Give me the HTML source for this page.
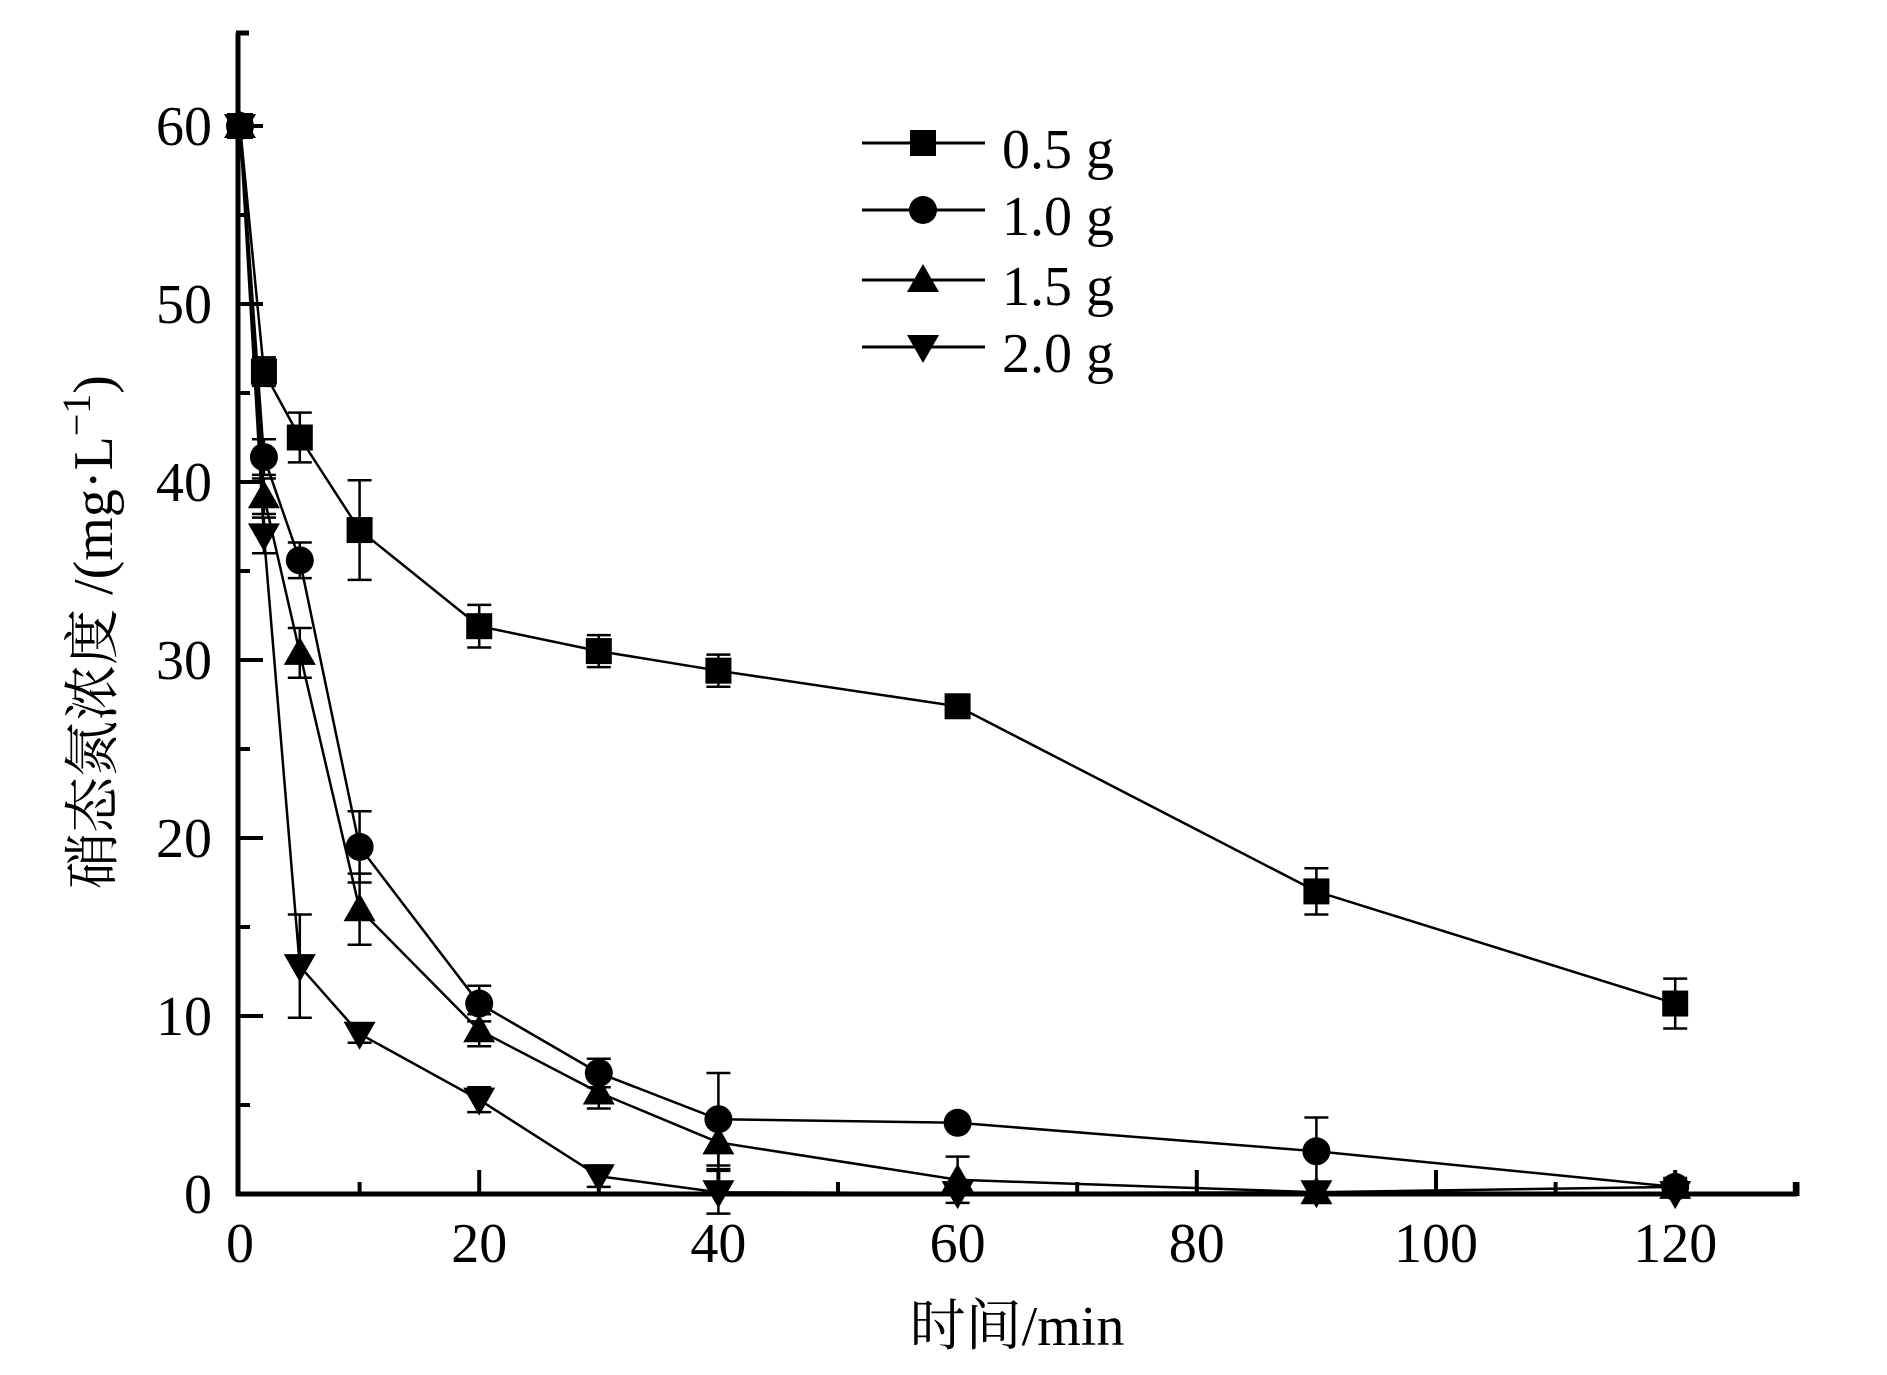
<!DOCTYPE html>
<html><head><meta charset="utf-8"><style>html,body{margin:0;padding:0;background:#fff}svg{display:block}</style></head>
<body>
<svg width="1887" height="1375" viewBox="0 0 1887 1375" xmlns="http://www.w3.org/2000/svg" font-family="Liberation Serif, serif">
<defs>
<g id="sq"><rect x="-13" y="-13" width="26" height="26" fill="#000"/></g>
<g id="ci"><circle r="14" fill="#000"/></g>
<g id="tu"><polygon points="0,-16 16,12 -16,12" fill="#000"/></g>
<g id="td"><polygon points="0,16 16,-12 -16,-12" fill="#000"/></g>
</defs>
<g id="plot"></g>
<g stroke="#000" stroke-width="5" fill="none">
<line x1="238" y1="33" x2="238" y2="1196"/>
<line x1="236" y1="1194" x2="1797" y2="1194"/>
<line x1="236" y1="33" x2="249" y2="33"/>
<line x1="1797" y1="1196" x2="1797" y2="1182"/>
</g>
<g id="ticks" stroke="#000" stroke-width="4"></g>
<g font-size="56" fill="#000" id="labels"></g>
<g font-size="56" fill="#000">
<text transform="translate(112,632) rotate(-90)" text-anchor="middle" font-family="Liberation Serif, Noto Serif CJK SC, serif">硝态氮浓度 /(mg·L<tspan dy="-22" font-size="40">−1</tspan><tspan dy="22">)</tspan></text>
<text x="1017" y="1345" text-anchor="middle" font-family="Liberation Serif, Noto Serif CJK SC, serif">时间/min</text>
</g>
<g stroke="#000" stroke-width="3">
<line x1="862" y1="143" x2="985" y2="143"/><line x1="862" y1="210" x2="985" y2="210"/>
<line x1="862" y1="280" x2="985" y2="280"/><line x1="862" y1="347" x2="985" y2="347"/>
</g>
<use href="#sq" x="923" y="143"/><use href="#ci" x="923" y="210"/><use href="#tu" x="923" y="280"/><use href="#td" x="923" y="347"/>
<g font-size="56" fill="#000">
<text x="1002" y="168">0.5 g</text><text x="1002" y="235">1.0 g</text><text x="1002" y="305">1.5 g</text><text x="1002" y="372">2.0 g</text>
</g>
<script>
const X=t=>240+t*11.96, Y=v=>1194-v*17.8;
const ns="http://www.w3.org/2000/svg";
function el(p,n,a){const e=document.createElementNS(ns,n);for(const k in a)e.setAttribute(k,a[k]);p.appendChild(e);return e;}
const tk=document.getElementById('ticks'), lb=document.getElementById('labels'), pl=document.getElementById('plot');
for(let t=10;t<=130;t+=10){const maj=t%20==0;el(tk,'line',{x1:X(t),y1:1194,x2:X(t),y2:1194-(maj?24:12)});}
for(let t=0;t<=120;t+=20){const e=el(lb,'text',{x:X(t),y:1262,'text-anchor':'middle'});e.textContent=t;}
for(let v=5;v<=65;v+=5){const maj=v%10==0;if(v>64)continue;el(tk,'line',{x1:238,y1:Y(v),x2:238+(maj?25:12),y2:Y(v)});}
for(let v=0;v<=60;v+=10){const e=el(lb,'text',{x:212,y:Y(v)+19,'text-anchor':'end'});e.textContent=v;}
const T=[0,2,5,10,20,30,40,60,90,120];
const S=[
 ['sq',[60,46.2,42.5,37.3,31.9,30.5,29.4,27.4,17,10.7],[0,0.8,1.4,2.8,1.2,0.9,0.9,0.3,1.3,1.4]],
 ['ci',[60,41.4,35.6,19.5,10.7,6.8,4.2,4.0,2.4,0.4],[0,1,1,2,1,0.8,2.6,0.3,1.9,0.5]],
 ['tu',[60,39.2,30.4,16,9.2,5.7,2.9,0.8,0.1,0.4],[0,1,1.4,2,0.9,0.9,1.5,1.3,0.2,0.3]],
 ['td',[60,37,12.8,9,5.3,1,0.1,0.05,0.1,0.05],[0,1,2.9,0.5,0.7,0.6,1.2,0.1,0.2,0.1]]];
S.forEach(([m,v,e])=>{
 el(pl,'polyline',{points:T.map((t,i)=>X(t)+','+Y(v[i])).join(' '),fill:'none',stroke:'#000','stroke-width':2.5});
 T.forEach((t,i)=>{if(e[i]>0.4){const x=X(t);el(pl,'path',{d:`M${x},${Y(v[i]-e[i])}V${Y(v[i]+e[i])}M${x-12},${Y(v[i]-e[i])}h24M${x-12},${Y(v[i]+e[i])}h24`,stroke:'#000','stroke-width':2.5,fill:'none'});}
  el(pl,'use',{href:'#'+m,x:X(t),y:Y(v[i])});});
});
</script>
</svg>
</body></html>
